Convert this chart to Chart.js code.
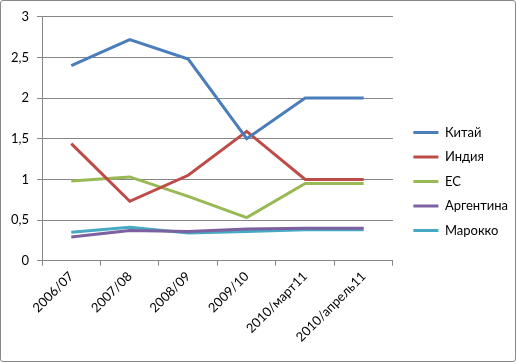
<!DOCTYPE html>
<html>
<head>
<meta charset="utf-8">
<script src="https://cdn.jsdelivr.net/npm/chart.js@4"></script>
<style>
    html, body { margin: 0; padding: 0; background: #fff; }
    #wrap { width: 516px; height: 362px; box-sizing: border-box; border: 1px solid #888; border-radius: 3px; }
</style>
</head>
<body>
<div id="wrap"><canvas id="chart" width="514" height="360"></canvas></div>
<script>
// Categories
const labels = ['2006/07', '2007/08', '2008/09', '2009/10', '2010/март11', '2010/апрель11'];

// Series values
const china     = [2.40, 2.72, 2.48, 1.50, 2.00, 2.00];
const india     = [1.44, 0.73, 1.05, 1.59, 1.00, 1.00];
const eu        = [0.98, 1.03, 0.79, 0.53, 0.95, 0.95];
const argentina = [0.29, 0.37, 0.36, 0.39, 0.40, 0.40];
const morocco   = [0.35, 0.41, 0.34, 0.36, 0.38, 0.38];

const seriesNames = ['Китай', 'Индия', 'ЕС', 'Аргентина', 'Марокко'];
const seriesData = [china, india, eu, argentina, morocco];
const colors = ['#4A7EBB', '#BE4B48', '#98B954', '#7D60A0', '#46AAC5'];

const fontFamily = 'Lato, "Open Sans", sans-serif';

// nudge the legend away from the plot, like Excel does
const legendShift = {
    id: 'legendShift',
    afterLayout(chart) {
        const l = chart.legend;
        if (!l) return;
        l.left += 9; l.right += 9;
        l.top += 3; l.bottom += 3;
    }
};

const ctx = document.getElementById('chart').getContext('2d');
new Chart(ctx, {
    type: 'line',
    data: {
        labels: labels,
        datasets: seriesData.map((d, i) => ({
            label: seriesNames[i],
            data: d,
            borderColor: colors[i],
            backgroundColor: colors[i],
            borderWidth: 3,
            pointRadius: 0,
            tension: 0,
            fill: false
        }))
    },
    plugins: [legendShift],
    options: {
        responsive: false,
        animation: false,
        layout: { padding: { top: 8, left: 2, right: 6, bottom: 13 } },
        plugins: {
            legend: {
                position: 'right',
                labels: {
                    usePointStyle: true,
                    pointStyle: 'line',
                    pointStyleWidth: 25,
                    padding: 11.5,
                    color: '#000',
                    font: { family: fontFamily, size: 13 }
                }
            },
            tooltip: { enabled: false }
        },
        scales: {
            x: {
                offset: true,
                grid: { offset: true, drawOnChartArea: false, tickLength: 5, color: '#868686' },
                border: { color: '#868686' },
                ticks: {
                    maxRotation: 45,
                    minRotation: 45,
                    color: '#000',
                    font: { family: fontFamily, size: 13 }
                }
            },
            y: {
                min: 0,
                max: 3,
                ticks: {
                    stepSize: 0.5,
                    color: '#000',
                    padding: 8,
                    font: { family: fontFamily, size: 13 },
                    callback: v => String(v).replace('.', ',')
                },
                grid: { color: '#868686', tickLength: 5 },
                border: { color: '#868686' }
            }
        }
    }
});
</script>
</body>
</html>
